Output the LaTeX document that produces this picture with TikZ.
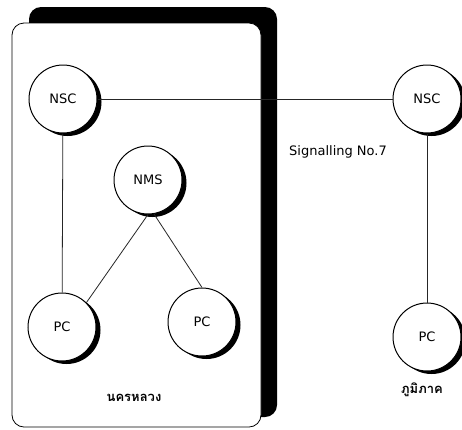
\documentclass[tikz,border=0pt]{standalone}
\usepackage{fontspec}
\setmainfont{DejaVu Sans}
\newfontfamily\thaifont[Script=Thai]{Loma}
\usetikzlibrary{shadows}
\begin{document}
\begin{tikzpicture}[x=1pt,y=-1pt,
  station/.style={circle, draw=black, line width=1pt, fill=white,
    minimum size=68pt, inner sep=0pt, font=\fontsize{13}{15}\selectfont,
    drop shadow={shadow xshift=4.5pt, shadow yshift=-3pt, fill=black, opacity=1}},
  link/.style={line width=0.8pt, draw=black!85},
  lbl/.style={inner sep=0pt, font=\fontsize{13}{15}\selectfont},
  thailbl/.style={inner sep=0pt, font=\thaifont\bfseries\fontsize{13}{15}\selectfont}]
  \useasboundingbox (0,0) rectangle (462,429);

  % metropolitan area panel with its black backing
  \fill[black, rounded corners=12pt] (29,7) rectangle (277,417);
  \draw[fill=white, line width=0.8pt, rounded corners=12pt] (12,23) rectangle (261,427);

  % switching centres
  \node[station] (nscL) at (63,99)  {NSC};
  \node[station] (nms)  at (148,180) {NMS};
  \node[station] (pcL)  at (62,327) {PC};
  \node[station] (pcM)  at (202,322) {PC};
  \node[station] (nscR) at (427,99) {NSC};
  \node[station] (pcR)  at (427,337) {PC};

  % links
  \draw[link] (nscL) -- (nscR);
  \draw[link] (nscL) -- (pcL);
  \draw[link] (nms.south) -- (pcL.45);
  \draw[link] (nms.-80) -- (pcM.north);
  \draw[link] (nscR) -- (pcR);

  % labels
  \node[lbl] (sig) at (338,152) {Signalling No.7};
  \node[thailbl] (metro) at (134,398) {นครหลวง};
  \node[thailbl] (region) at (422,390) {ภูมิภาค};
\end{tikzpicture}
\end{document}
